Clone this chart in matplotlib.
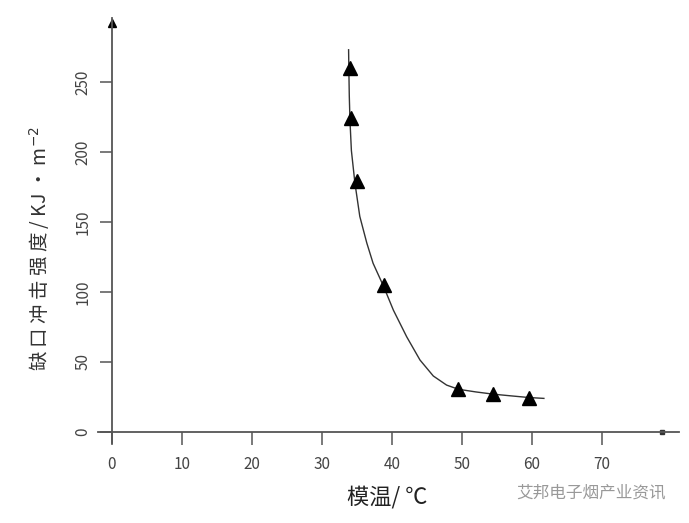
import matplotlib.pyplot as plt

plt.rcParams['font.family'] = ['Noto Sans CJK SC', 'DejaVu Sans']

# measured points (mold temperature vs notched impact strength)
temp = [34.0, 34.1, 34.95, 38.9, 49.5, 54.5, 59.6]
strength = [260, 224.5, 179.5, 105, 30.7, 26.9, 24.0]

# fitted curve
curve_x = [33.8, 33.85, 33.9, 34.0, 34.2, 34.7, 35.4, 36.4, 37.3, 38.8,
           40.2, 42.1, 44.0, 45.9, 47.8, 49.5, 52.0, 54.5, 57.0, 59.6, 61.7]
curve_y = [273, 255, 240, 222, 201, 178, 154, 135, 120.5, 104,
           87, 68, 51.4, 40, 33.5, 30.5, 28.6, 27.0, 25.8, 24.6, 24.0]

xticks = [0, 10, 20, 30, 40, 50, 60, 70]
yticks = [0, 50, 100, 150, 200, 250]


def main():
    fig = plt.figure(figsize=(6.89, 5.23), dpi=100)
    ax = fig.add_axes([0.1422, 0.1526, 0.8433, 0.8138])
    ax.set_xlim(-2, 81)
    ax.set_ylim(-8, 296)

    ax.plot(curve_x, curve_y, color='#333333', lw=1.0)
    ax.plot(temp, strength, '^', color='black', ms=10, ls='none')

    axis_c = '#555555'
    for s in ['top', 'right']:
        ax.spines[s].set_visible(False)
    ax.spines['left'].set_position(('data', 0))
    ax.spines['bottom'].set_position(('data', 0))
    ax.spines['left'].set_color(axis_c)
    ax.spines['bottom'].set_color(axis_c)
    ax.spines['left'].set_linewidth(1.3)
    ax.spines['bottom'].set_linewidth(1.3)
    # arrow heads
    ax.plot([0], [292], '^', color='black', ms=6, clip_on=False)
    ax.plot([78.5], [0], 's', color='#333333', ms=3, clip_on=False)

    ax.set_xticks(xticks)
    ax.set_yticks(yticks)
    ax.tick_params(axis='x', direction='out', length=9, width=1.1, color=axis_c,
                   labelsize=11, pad=8, labelcolor='#444444')
    ax.tick_params(axis='y', direction='out', length=9, width=1.1, color=axis_c,
                   labelsize=11, pad=6, labelcolor='#444444', labelrotation=90)
    for lab in ax.get_yticklabels():
        lab.set_verticalalignment('center')

    fig.text(0.058, 0.525, '缺 口 冲 击 强 度 / KJ · m$^{-2}$', rotation=90,
             fontsize=14, ha='center', va='center', color='#333333')
    fig.text(0.562, 0.05, '模温/ ℃', fontsize=16, ha='center', va='center',
             color='#222222')
    fig.text(0.858, 0.057, '艾邦电子烟产业资讯', fontsize=12, ha='center',
             va='center', color='#999999')

    fig.savefig('out.png', dpi=100)


if __name__ == '__main__':
    main()
